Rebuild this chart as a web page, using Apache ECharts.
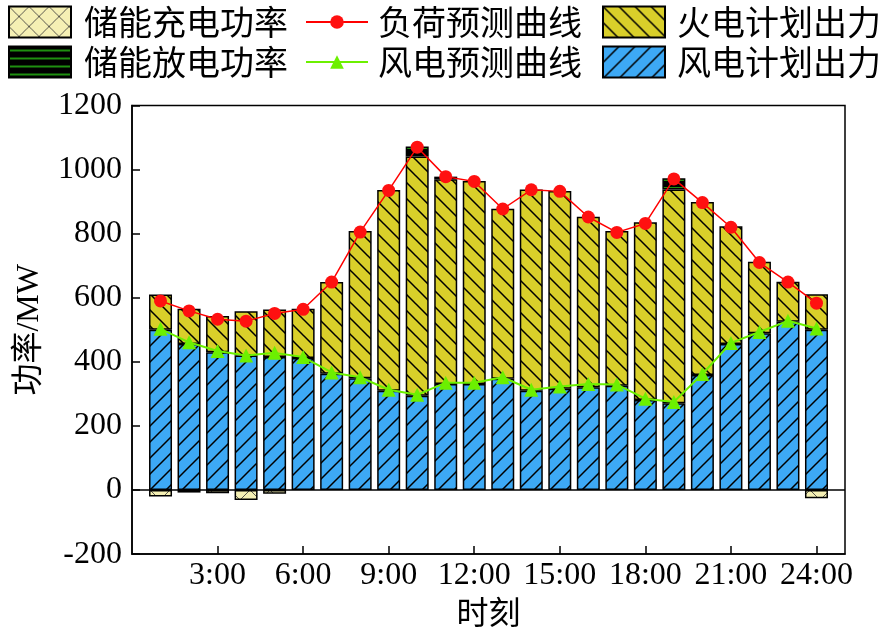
<!DOCTYPE html>
<html><head><meta charset="utf-8">
<script src="https://cdn.jsdelivr.net/npm/echarts@6/dist/echarts.min.js"></script>
<style>html,body{margin:0;padding:0;background:#fff}#c{width:879px;height:633px}</style>
</head><body><div id="c"></div>
<script>
// ---- data ----
const hours = [1,2,3,4,5,6,7,8,9,10,11,12,13,14,15,16,17,18,19,20,21,22,23,24];
const xTickValues = [3,6,9,12,15,18,21,24];
const xTickLabels = ['3:00','6:00','9:00','12:00','15:00','18:00','21:00','24:00'];
const windPlan = [500,456,430,420,415,412,363,349,310,294,331,331,347,310,316,321,325,281,271,359,456,489,525,500];
const thermalPlan = [110,110,113,138,148,154,286,459,626,747,639,633,531,628,617,532,483,555,667,540,367,223,125,111];
const storageDischarge = [0,0,0,0,0,0,0,0,0,31,8,0,0,0,0,0,0,0,35,0,0,0,0,0];
const storageCharge = [-20,-8,-10,-31,-12,0,0,0,0,0,0,0,0,0,0,0,0,0,0,0,0,0,0,-26];
const loadForecast = [590,559,533,527,551,564,649,805,935,1070,978,963,877,937,932,852,804,832,971,897,820,710,649,583];
const windForecast = [503,461,434,420,428,415,367,352,313,297,335,335,352,313,323,331,329,285,275,362,459,493,528,504];

// ---- patterns ----
function makePattern(w,h,bg,draw){
  const c=document.createElement('canvas'); c.width=w; c.height=h;
  const g=c.getContext('2d'); g.fillStyle=bg; g.fillRect(0,0,w,h); draw(g,w,h);
  return {image:c, repeat:'repeat'};
}
const blueFill = makePattern(16,16,'#3da9f5',(g,w,h)=>{
  g.strokeStyle='#000'; g.lineWidth=1.5; g.beginPath();
  g.moveTo(-2,h+2); g.lineTo(w+2,-2);
  g.moveTo(-2,2); g.lineTo(2,-2);
  g.moveTo(w-2,h+2); g.lineTo(w+2,h-2);
  g.stroke();
});
const yellowFill = makePattern(16,16,'#d9cf2a',(g,w,h)=>{
  g.strokeStyle='#000'; g.lineWidth=1.5; g.beginPath();
  g.moveTo(-2,-2); g.lineTo(w+2,h+2);
  g.moveTo(w-2,-2); g.lineTo(w+2,2);
  g.moveTo(-2,h-2); g.lineTo(2,h+2);
  g.stroke();
});
const chargeFill = makePattern(20,20,'#f5f0b4',(g,w,h)=>{
  g.strokeStyle='#333'; g.lineWidth=0.8; g.beginPath();
  g.moveTo(0,0); g.lineTo(w,h); g.moveTo(w,0); g.lineTo(0,h);
  g.stroke();
});
const dischargeFill = makePattern(8,8,'#000',(g,w,h)=>{
  g.fillStyle='#1f9010'; g.fillRect(0,3,w,2);
});

// category axis: slot 0 and slot 25 are empty padding so hour h sits at position h of 0..25
const axisCats = ['0'].concat(hours.map(String), ['25']);
const pad = arr => ['-'].concat(arr.map(v => v === 0 ? '-' : v), ['-']);
const padKeep = arr => ['-'].concat(arr, ['-']);

const serif = "'Liberation Serif','Noto Sans CJK SC'";
const cjk = "'Noto Sans CJK SC'";
const barBase = {type:'bar', stack:'p', barWidth:23};
const legendText = {fontFamily:cjk, fontSize:34, color:'#000', lineHeight:34};
const showTick = (idx) => xTickValues.indexOf(idx) >= 0;

const option = {
  animation:false,
  backgroundColor:'#fff',
  grid:{left:132, right:34, top:105.5, bottom:73.5, show:true, borderColor:'#000', borderWidth:1.5, backgroundColor:'transparent'},
  legend:[
    {left:3, top:0, orient:'vertical', icon:'rect', itemWidth:62, itemHeight:31, itemGap:6, data:['储能充电功率','储能放电功率'], textStyle:Object.assign({padding:[0,0,0,8]},legendText), selectedMode:false},
    {left:300, top:0, orient:'vertical', itemWidth:62, itemHeight:17, itemGap:6, data:['负荷预测曲线','风电预测曲线'], textStyle:Object.assign({padding:[0,0,0,5]},legendText), selectedMode:false},
    {left:597, top:0, orient:'vertical', icon:'rect', itemWidth:62, itemHeight:31, itemGap:6, data:['火电计划出力','风电计划出力'], textStyle:Object.assign({padding:[0,0,0,7]},legendText), selectedMode:false}
  ],
  xAxis:{
    type:'category', data:axisCats, boundaryGap:false,
    name:'时刻', nameLocation:'middle', nameGap:37,
    nameTextStyle:{fontFamily:cjk, fontSize:32, color:'#000'},
    axisLine:{onZero:false, lineStyle:{color:'#000', width:1.5}},
    axisTick:{inside:true, length:8, interval:showTick, lineStyle:{color:'#000', width:1.5}},
    axisLabel:{margin:5, fontFamily:serif, fontSize:32, color:'#000', interval:showTick,
      formatter:(v,idx)=>{const i=xTickValues.indexOf(idx); return i>=0?xTickLabels[i]:'';}},
    splitLine:{show:false}
  },
  yAxis:{
    type:'value', min:-200, max:1200, interval:200,
    name:'功率/MW', nameLocation:'middle', nameGap:86,
    nameTextStyle:{fontFamily:serif, fontSize:32, color:'#000'},
    axisLine:{show:true, lineStyle:{color:'#000', width:1.5}},
    axisTick:{show:true, inside:true, length:8, lineStyle:{color:'#000', width:1.5}},
    axisLabel:{margin:10, fontFamily:serif, fontSize:32, color:'#000', formatter:v=>String(v)},
    splitLine:{show:false}
  },
  series:[
    Object.assign({}, barBase, {name:'风电计划出力', data:pad(windPlan), itemStyle:{color:blueFill, borderColor:'#000', borderWidth:1.5},
      markLine:{silent:true, symbol:'none', label:{show:false}, lineStyle:{color:'#000', type:'solid', width:1.5}, data:[{yAxis:0}]}}),
    Object.assign({}, barBase, {name:'火电计划出力', data:pad(thermalPlan), itemStyle:{color:yellowFill, borderColor:'#000', borderWidth:1.5}}),
    Object.assign({}, barBase, {name:'储能放电功率', data:pad(storageDischarge), itemStyle:{color:dischargeFill, borderColor:'#000', borderWidth:1.5}}),
    Object.assign({}, barBase, {name:'储能充电功率', data:pad(storageCharge), itemStyle:{color:chargeFill, borderColor:'#000', borderWidth:1.5}}),
    {type:'line', name:'负荷预测曲线', data:padKeep(loadForecast), symbol:'circle', symbolSize:13,
      lineStyle:{color:'#ff0000', width:1.5}, itemStyle:{color:'#ff1010'}, z:5},
    {type:'line', name:'风电预测曲线', data:padKeep(windForecast), symbol:'triangle', symbolSize:14,
      lineStyle:{color:'#6cf000', width:2}, itemStyle:{color:'#6cf000'}, z:5}
  ]
};
echarts.init(document.getElementById('c'), null, {renderer:'canvas'}).setOption(option);
</script>
</body></html>
